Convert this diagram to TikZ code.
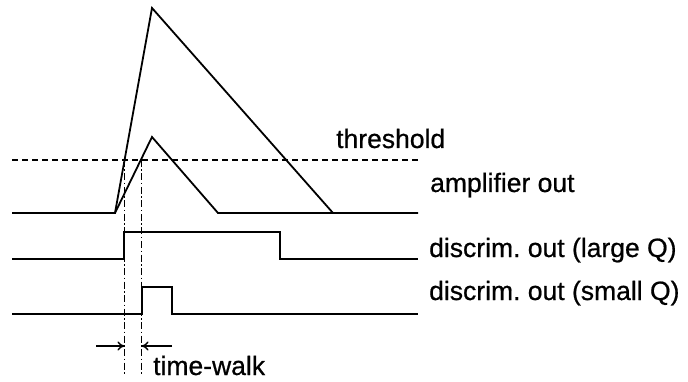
\documentclass[tikz,border=0pt]{standalone}
\usepackage{fontspec}
\setmainfont{Liberation Sans}
\newfontfamily\lblfont{Liberation Sans}[FakeBold=0.7]
\usetikzlibrary{arrows.meta}
\begin{document}
\frenchspacing
\begin{tikzpicture}[x=1pt,y=-1pt,
  sig/.style={line width=1.8pt, line join=miter},
  thr/.style={line width=1.3pt, dash pattern=on 6pt off 4pt},
  guide/.style={line width=1.2pt, dash pattern=on 7pt off 2.5pt on 1.5pt off 2.5pt},
  walk/.style={line width=1.4pt, -{To[length=7pt,width=9pt]}},
  lbl/.style={inner sep=0pt, anchor=base west, font=\lblfont\fontsize{26.5}{30}\selectfont}]
\useasboundingbox (0,0) rectangle (688,382);
% coordinates
\coordinate (a0) at (12,213);
\coordinate (a1) at (115,213);
\coordinate (pl) at (152,8);
\coordinate (ps) at (152,137);
\coordinate (es) at (218,213);
\coordinate (el) at (333,213);
\coordinate (a2) at (418,213);
% amplifier out
\draw[sig] (a0) -- (a1) -- (pl) -- (el) -- (a2);
\draw[sig] (a1) -- (ps) -- (es) -- (el);
% threshold
\draw[thr] (12,160) -- (418,160);
% discrim large Q
\draw[sig] (12,259) -- (124,259) -- (124,232) -- (280,232) -- (280,259) -- (418,259);
% discrim small Q
\draw[sig] (12,314) -- (142,314) -- (142,287) -- (172,287) -- (172,314) -- (418,314);
% guides
\coordinate (g1t) at (124.5,160);
\coordinate (g1b) at (124.5,376);
\coordinate (g2t) at (141.5,160);
\coordinate (g2b) at (141.5,376);
\draw[guide] (g1t) -- (g1b);
\draw[guide] (g2t) -- (g2b);
% time-walk arrows
\coordinate (w1) at (96,346);
\coordinate (w2) at (172,346);
\coordinate (w1e) at (124.5,346);
\coordinate (w2e) at (141.5,346);
\draw[walk] (w1) -- (w1e);
\draw[walk] (w2) -- (w2e);
% labels
\node[lbl] (lthr) at (336,148) {threshold};
\node[lbl] (lamp) at (430,192) {amplifier out};
\node[lbl] (llq) at (429,257) {discrim. out (large Q)};
\node[lbl] (lsq) at (429,300) {discrim. out (small Q)};
\node[lbl] (ltw) at (153,375) {time-walk};
\end{tikzpicture}
\end{document}
